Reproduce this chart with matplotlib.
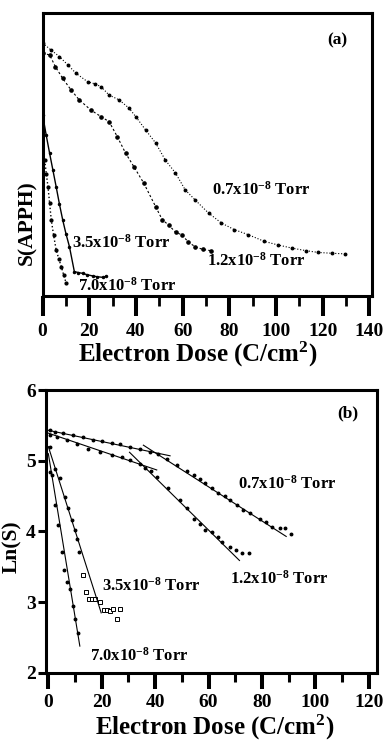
import matplotlib
matplotlib.use("Agg")
import matplotlib.pyplot as plt
from matplotlib.ticker import MultipleLocator, NullLocator

plt.rcParams["font.family"] = ["Liberation Serif", "DejaVu Serif"]
plt.rcParams["font.weight"] = "bold"
plt.rcParams["mathtext.fontset"] = "custom"
plt.rcParams["mathtext.rm"] = "Liberation Serif:bold"
plt.rcParams["mathtext.bf"] = "Liberation Serif:bold"
plt.rcParams["mathtext.it"] = "Liberation Serif:bold"

# ---- panel (a): S(APPH) vs dose, arbitrary units ----
a07_x = [0, 3.5, 7.2, 11, 14.3, 19.3, 22.3, 25, 28.5, 32.8, 37, 39.9, 44.1, 48.4, 52.6,
         56.9, 61.1, 65.4, 71.1, 76.6, 82, 88, 95, 101, 107, 113, 118, 124, 129.4]
a07_y = [89.4, 87, 84.6, 81.5, 78.7, 75.7, 75, 74, 71, 69.3, 66.4, 63.4, 58.7, 54.1, 48,
         43.5, 37.5, 33.9, 29.3, 25.8, 23.5, 21.7, 19.3, 18, 16.9, 16, 15.4, 15.1, 14.9]

a12_x = [0, 3, 5.5, 8.6, 12.2, 15.7, 20.7, 25, 28.5, 32, 35.6, 39.1, 43.4, 48.4, 51.3,
         54, 57, 59.7, 62.5, 65.4, 68.5, 72.2]
a12_y = [85.8, 85.2, 81, 76.9, 72.8, 69.3, 65.7, 63.4, 61.6, 56.3, 50.4, 45.7, 39.8, 31.6,
         26.9, 25.1, 22.5, 21.6, 19, 17.4, 16.5, 16]

a35_x = [0, 1.5, 3, 4.4, 5.8, 7.2, 8.6, 10, 11.5, 13.6, 15.3, 17.1, 19.2, 21.4, 23.5, 25.7, 27]
a35_y = [64, 57, 50.4, 44.5, 38.6, 32.5, 26.9, 22, 17.4, 8.6, 8.3, 8.0, 7.5, 7.1, 6.8, 6.6, 6.9]

a70_x = [0.9, 1.6, 2.3, 3.0, 3.7, 4.7, 5.8, 6.9, 8.0, 9.0, 10.1]
a70_y = [48, 43, 38.6, 32.7, 26.9, 21.5, 16.3, 13.2, 10.4, 7.5, 4.5]

# ---- panel (b): Ln(S) vs dose with linear fits ----
b07_x = [0.5, 2.5, 5.6, 9.4, 13.1, 16.9, 20, 23.8, 26.9, 30.6, 34.4, 38.1, 41.2, 44.4, 48.1,
         51.9, 54.5, 56.9, 58.8, 61.2, 63.7, 66, 68.1, 70.6, 73, 75.6, 79.4, 81.5, 83.8,
         86.9, 88.8, 90.9]
b07_y = [5.43, 5.41, 5.39, 5.36, 5.33, 5.30, 5.28, 5.25, 5.23, 5.20, 5.17, 5.13, 5.09, 5.02,
         4.94, 4.86, 4.80, 4.74, 4.69, 4.62, 4.54, 4.50, 4.44, 4.37, 4.31, 4.26, 4.18, 4.13,
         4.07, 4.05, 4.05, 3.97]
b07_fits = [([0, 45.6], [5.43, 5.07]), ([35.6, 89.1], [5.22, 3.93])]

b12_x = [0.5, 3.1, 6.9, 10.6, 15, 19.4, 23.8, 27.5, 30.6, 34.4, 36.3, 38.5, 40.6, 45, 49.4,
         52, 54.4, 56.9, 58.8, 61.3, 63.5, 65, 68.1, 70.4, 72.5, 75]
b12_y = [5.37, 5.34, 5.30, 5.24, 5.17, 5.12, 5.08, 5.05, 5.01, 4.96, 4.90, 4.86, 4.77, 4.61,
         4.44, 4.33, 4.18, 4.11, 4.02, 3.99, 3.92, 3.85, 3.78, 3.74, 3.70, 3.70]
b12_fits = [([0, 40.6], [5.39, 4.87]), ([30.4, 71.6], [5.12, 3.59])]

b35_x = [0.6, 2.5, 4.4, 6.3, 7.5, 8.8, 10, 10.6, 11.6, 12.9, 14.1, 15.1, 16.4, 17.6, 19.5,
         21.0, 21.9, 23.1, 24.4, 25.6, 26.9]
b35_y = [5.2, 4.89, 4.75, 4.49, 4.33, 4.16, 4.02, 3.90, 3.71, 3.38, 3.15, 3.04, 3.04, 3.04,
         3.00, 2.89, 2.89, 2.87, 2.90, 2.77, 2.90]
b35_fit = ([0, 19.8], [5.2, 2.85])

b70_x = [0.6, 1.25, 2.5, 3.75, 5.0, 5.9, 6.9, 8.1, 9.1, 10.0, 11.25]
b70_y = [4.84, 4.80, 4.37, 4.09, 3.71, 3.46, 3.29, 3.18, 2.94, 2.76, 2.56]
b70_fit = ([0, 11.8], [5.1, 2.38])

labels = {
    "0.7": r"0.7x10$^{-8}$ Torr",
    "1.2": r"1.2x10$^{-8}$ Torr",
    "3.5": r"3.5x10$^{-8}$ Torr",
    "7.0": r"7.0x10$^{-8}$ Torr",
}

fig = plt.figure(figsize=(3.84, 7.49), dpi=100)
ax_a = fig.add_axes([0.111, 0.6048, 0.857, 0.3778])
ax_b = fig.add_axes([0.121, 0.1015, 0.860, 0.3778])

for ax in (ax_a, ax_b):
    for sp in ax.spines.values():
        sp.set_linewidth(2.2)

# panel (a)
ax_a.plot(a07_x, a07_y, color="black", ls=":", lw=0.8, marker="o", ms=1.8)
ax_a.plot(a12_x, a12_y, color="black", ls=(0, (2, 2)), lw=0.8, marker="o", ms=2.3)
ax_a.plot(a35_x, a35_y, color="black", ls="-", lw=1.0, marker="o", ms=1.5)
ax_a.plot(a70_x, a70_y, color="black", ls=":", lw=1.0, marker="o", ms=2.0)

ax_a.set_xlim(0, 141)
ax_a.set_ylim(0, 100)
ax_a.xaxis.set_major_locator(MultipleLocator(20))
ax_a.xaxis.set_minor_locator(MultipleLocator(10))
ax_a.yaxis.set_major_locator(NullLocator())
ax_a.tick_params(axis="x", which="major", length=14.4, width=2.9, pad=5, labelsize=14)
ax_a.tick_params(axis="x", which="minor", length=7.2, width=2.0)
ax_a.set_xlabel("Electron Dose (C/cm$^2$)", fontsize=18, fontweight="bold")
ax_a.xaxis.set_label_coords(0.47, -0.155)
ax_a.set_ylabel("S(APPH)", fontsize=15.5, fontweight="bold")
ax_a.yaxis.set_label_coords(-0.017, 0.26)

txt = dict(fontsize=12, fontweight="bold", va="center", ha="left")
ax_a.text(72.6, 37.5, labels["0.7"], **txt)
ax_a.text(70.4, 12.4, labels["1.2"], **txt)
ax_a.text(12.6, 18.7, labels["3.5"], **txt)
ax_a.text(15.1, 3.5, labels["7.0"], **txt)
ax_a.text(126.4, 90.5, "(a)", fontsize=12.5, fontweight="bold", ha="center", va="center")

# panel (b)
ax_b.plot(b07_x, b07_y, "o", color="black", ms=1.8)
ax_b.plot(b12_x, b12_y, "o", color="black", ms=1.8)
ax_b.plot(b35_x[:9], b35_y[:9], "o", color="black", ms=1.8)
ax_b.plot(b35_x[9:], b35_y[9:], "s", color="black", mfc="white", mew=0.7, ms=2.2)
ax_b.plot(b70_x, b70_y, "o", color="black", ms=1.8)

for fx, fy in b07_fits + b12_fits + [b35_fit, b70_fit]:
    ax_b.plot(fx, fy, color="black", lw=0.8)

ax_b.set_xlim(-0.7, 123)
ax_b.set_ylim(2, 6)
ax_b.xaxis.set_major_locator(MultipleLocator(20))
ax_b.xaxis.set_minor_locator(MultipleLocator(10))
ax_b.yaxis.set_major_locator(MultipleLocator(1))
ax_b.tick_params(axis="x", which="major", length=11.5, width=2.9, pad=3.6, labelsize=14)
ax_b.tick_params(axis="x", which="minor", length=6.5, width=2.2)
ax_b.tick_params(axis="y", which="major", length=5.8, width=2.2, pad=2, labelsize=14)
ax_b.set_xlabel("Electron Dose (C/cm$^2$)", fontsize=18, fontweight="bold")
ax_b.xaxis.set_label_coords(0.51, -0.14)
ax_b.set_ylabel("Ln(S)", fontsize=15.5, fontweight="bold")
ax_b.yaxis.set_label_coords(-0.074, 0.445)

ax_b.text(71.1, 4.68, labels["0.7"], **txt)
ax_b.text(68.1, 3.33, labels["1.2"], **txt)
ax_b.text(20.1, 3.24, labels["3.5"], **txt)
ax_b.text(15.6, 2.25, labels["7.0"], **txt)
ax_b.text(112.2, 5.67, "(b)", fontsize=12.5, fontweight="bold", ha="center", va="center")

fig.savefig("out.png", dpi=100)
